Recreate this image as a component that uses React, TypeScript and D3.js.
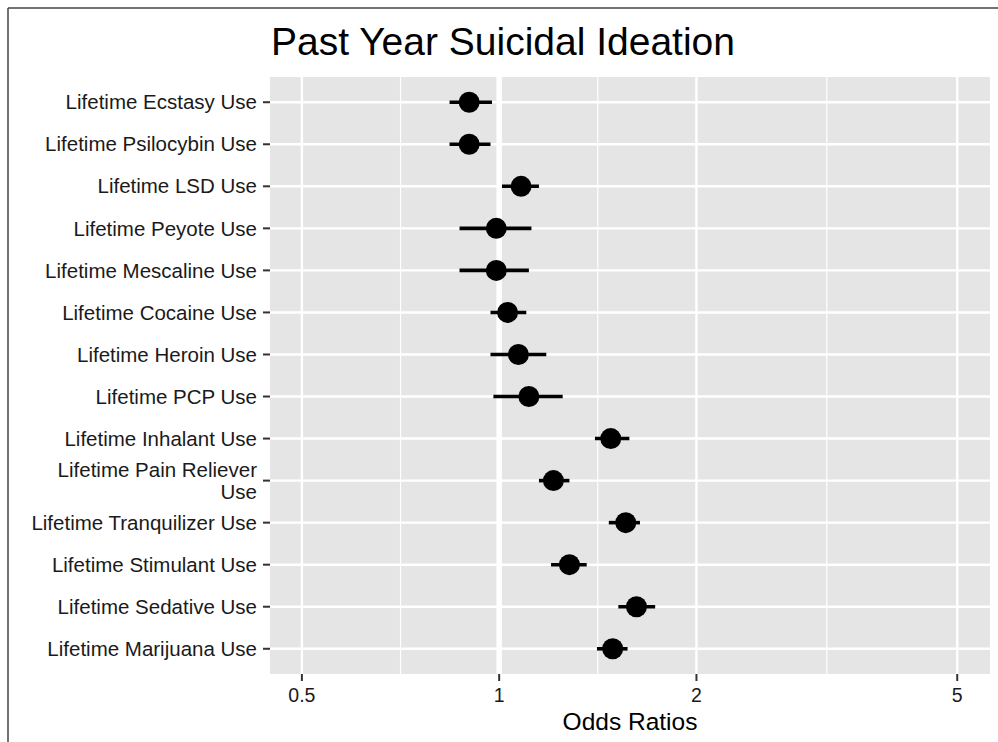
import React, { useEffect, useRef } from "react";
import * as d3 from "d3";

const categories = [
  "Lifetime Ecstasy Use",
  "Lifetime Psilocybin Use",
  "Lifetime LSD Use",
  "Lifetime Peyote Use",
  "Lifetime Mescaline Use",
  "Lifetime Cocaine Use",
  "Lifetime Heroin Use",
  "Lifetime PCP Use",
  "Lifetime Inhalant Use",
  "Lifetime Pain Reliever Use",
  "Lifetime Tranquilizer Use",
  "Lifetime Stimulant Use",
  "Lifetime Sedative Use",
  "Lifetime Marijuana Use",
];
const oddsRatio = [0.9, 0.9, 1.08, 0.99, 0.99, 1.03, 1.07, 1.11, 1.48, 1.21, 1.56, 1.28, 1.62, 1.49];
const lower = [0.84, 0.84, 1.01, 0.87, 0.87, 0.97, 0.97, 0.98, 1.4, 1.15, 1.47, 1.2, 1.52, 1.41];
const upper = [0.975, 0.97, 1.15, 1.12, 1.11, 1.1, 1.18, 1.25, 1.58, 1.28, 1.64, 1.36, 1.73, 1.57];
const majorTicks = [0.5, 1, 2, 5];
const minorTicks = [Math.SQRT1_2, Math.SQRT2, Math.sqrt(10)];

const FONT = "'Liberation Sans', Arial, Helvetica, sans-serif";

const App = () => {
  const ref = useRef<SVGSVGElement>(null);

  useEffect(() => {
    const svg = d3.select(ref.current);
    svg.selectAll("*").remove();

    const W = 998;
    const H = 742;
    const panel = { left: 270, right: 990, top: 77, bottom: 674 };

    svg.attr("width", W).attr("height", H).style("font-family", FONT);
    svg.append("rect").attr("width", W).attr("height", H).attr("fill", "#fff");

    // frame of the original picture (left + top only)
    svg.append("line").attr("x1", 8).attr("x2", 8).attr("y1", 8).attr("y2", H).attr("stroke", "#444").attr("stroke-width", 1.5);
    svg.append("line").attr("x1", 8).attr("x2", W).attr("y1", 8).attr("y2", 8).attr("stroke", "#444").attr("stroke-width", 1.5);

    const x = d3.scaleLog().domain([0.447, 5.61]).range([panel.left, panel.right]);
    const y = d3.scalePoint<string>().domain(categories).range([panel.top, panel.bottom]).padding(0.6);

    svg
      .append("rect")
      .attr("x", panel.left)
      .attr("y", panel.top)
      .attr("width", panel.right - panel.left)
      .attr("height", panel.bottom - panel.top)
      .attr("fill", "#e5e5e5");

    const grid = svg.append("g");
    grid
      .selectAll("line.minor")
      .data(minorTicks)
      .join("line")
      .attr("x1", (d) => x(d))
      .attr("x2", (d) => x(d))
      .attr("y1", panel.top)
      .attr("y2", panel.bottom)
      .attr("stroke", "#fff")
      .attr("stroke-width", 1.2);
    grid
      .selectAll("line.major")
      .data(majorTicks)
      .join("line")
      .attr("x1", (d) => x(d))
      .attr("x2", (d) => x(d))
      .attr("y1", panel.top)
      .attr("y2", panel.bottom)
      .attr("stroke", "#fff")
      .attr("stroke-width", 2.4);
    grid
      .selectAll("line.row")
      .data(categories)
      .join("line")
      .attr("x1", panel.left)
      .attr("x2", panel.right)
      .attr("y1", (d) => y(d)!)
      .attr("y2", (d) => y(d)!)
      .attr("stroke", "#fff")
      .attr("stroke-width", 2.4);
    // reference line at OR = 1
    grid
      .append("line")
      .attr("x1", x(1))
      .attr("x2", x(1))
      .attr("y1", panel.top)
      .attr("y2", panel.bottom)
      .attr("stroke", "#fff")
      .attr("stroke-width", 5.5);

    const marks = svg.append("g");
    marks
      .selectAll("line")
      .data(categories)
      .join("line")
      .attr("x1", (_, i) => x(lower[i]))
      .attr("x2", (_, i) => x(upper[i]))
      .attr("y1", (d) => y(d)!)
      .attr("y2", (d) => y(d)!)
      .attr("stroke", "#000")
      .attr("stroke-width", 3.6);
    marks
      .selectAll("circle")
      .data(categories)
      .join("circle")
      .attr("cx", (_, i) => x(oddsRatio[i]))
      .attr("cy", (d) => y(d)!)
      .attr("r", 10.5)
      .attr("fill", "#000");

    // y axis
    const ya = svg.append("g");
    ya.selectAll("line")
      .data(categories)
      .join("line")
      .attr("x1", panel.left - 7)
      .attr("x2", panel.left)
      .attr("y1", (d) => y(d)!)
      .attr("y2", (d) => y(d)!)
      .attr("stroke", "#333")
      .attr("stroke-width", 2);
    const yl = ya
      .selectAll("text")
      .data(categories)
      .join("text")
      .attr("x", panel.left - 13)
      .attr("y", (d) => y(d)!)
      .attr("text-anchor", "end")
      .attr("font-size", 20.5)
      .attr("fill", "#1a1a1a");
    yl.each(function (d) {
      const t = d3.select(this);
      const lines = d === "Lifetime Pain Reliever Use" ? ["Lifetime Pain Reliever", "Use"] : [d];
      const lh = 22;
      lines.forEach((s, k) => {
        t.append("tspan")
          .attr("x", panel.left - 13)
          .attr("y", y(d)! + (k - (lines.length - 1) / 2) * lh)
          .attr("dy", "0.35em")
          .text(s);
      });
    });

    // x axis
    const xa = svg.append("g");
    xa.selectAll("line")
      .data(majorTicks)
      .join("line")
      .attr("x1", (d) => x(d))
      .attr("x2", (d) => x(d))
      .attr("y1", panel.bottom)
      .attr("y2", panel.bottom + 7)
      .attr("stroke", "#333")
      .attr("stroke-width", 2);
    xa.selectAll("text")
      .data(majorTicks)
      .join("text")
      .attr("x", (d) => x(d))
      .attr("y", panel.bottom + 21)
      .attr("dy", "0.35em")
      .attr("text-anchor", "middle")
      .attr("font-size", 19.5)
      .attr("fill", "#1a1a1a")
      .text((d) => String(d));

    svg
      .append("text")
      .attr("x", (panel.left + panel.right) / 2)
      .attr("y", 730)
      .attr("text-anchor", "middle")
      .attr("font-size", 24.5)
      .attr("fill", "#000")
      .text("Odds Ratios");

    svg
      .append("text")
      .attr("x", 271)
      .attr("y", 55)
      .attr("font-size", 39)
      .attr("fill", "#000")
      .text("Past Year Suicidal Ideation");
  }, []);

  return <svg ref={ref} style={{ position: "absolute", left: 0, top: 0, display: "block" }}></svg>;
};

export default App;
